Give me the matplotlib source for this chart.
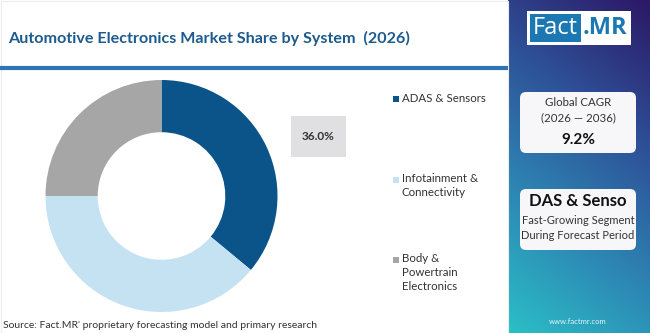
import numpy as np
import matplotlib.pyplot as plt
from matplotlib.colors import LinearSegmentedColormap
from matplotlib.patches import Rectangle, FancyBboxPatch

# data
segments = ['ADAS & Sensors', 'Infotainment &\nConnectivity', 'Body &\nPowertrain\nElectronics']
shares = [36.0, 39.0, 25.0]
seg_colors = ['#0b5489', '#c5e2f2', '#a6a6a6']
title = 'Automotive Electronics Market Share by System  (2026)'
highlight = '36.0%'
cagr_label = 'Global CAGR\n(2026 — 2036)'
cagr_value = '9.2%'
top_segment = 'DAS & Senso'
top_note = 'Fast-Growing Segment\nDuring Forecast Period'
source = "Source: Fact.MR' proprietary forecasting model and primary research"

W, H = 650, 333
plt.rcParams['font.family'] = ['Lato', 'DejaVu Sans']
fig = plt.figure(figsize=(W / 100, H / 100), dpi=100)

# background axes in pixel coords
bg = fig.add_axes([0, 0, 1, 1])
bg.set_xlim(0, W)
bg.set_ylim(H, 0)
bg.axis('off')

# right side gradient panel (diagonal: purple top-right -> teal bottom-left)
cmap = LinearSegmentedColormap.from_list('fm', ['#2c1866', '#2e4f96', '#2d86b4', '#2bbfc6'])
gx = np.linspace(0, 1, 150)
gy = np.linspace(0, 1, 340)
GX, GY = np.meshgrid(gx, gy)
grad = 0.25 * (1 - GX) + 0.75 * GY
bg.imshow(grad, cmap=cmap, extent=[508, W, H, 0], aspect='auto', zorder=0)

# left panel border and title line
bg.add_patch(Rectangle((0.5, 0.5), 507, H - 1, fill=False, edgecolor='#ececec', lw=0.8, zorder=1))
bg.text(8, 38, title, fontsize=11.6, fontweight='bold', color='#1d5a8e', va='center', ha='left')
bg.plot([0, 508], [68, 68], color='#2e75b6', lw=3, solid_capstyle='butt')

# logo
bg.add_patch(Rectangle((527, 11), 104, 34, facecolor='white', edgecolor='none', zorder=2))
bg.add_patch(Rectangle((530, 14), 51, 28, facecolor='#1b78b2', edgecolor='none', zorder=3))
bg.text(555.5, 28.5, 'Fact', fontsize=17, color='white', ha='center', va='center', zorder=4,
        family=['Open Sans', 'DejaVu Sans'])
bg.text(605, 28.5, '.MR', fontsize=17, color='#1b78b2', ha='center', va='center', zorder=4,
        family=['Open Sans', 'DejaVu Sans'], fontweight='bold')

# cards
for y0, y1 in [(92, 153), (189, 250)]:
    bg.add_patch(FancyBboxPatch((520, y0), 116, y1 - y0, boxstyle='round,pad=0,rounding_size=6',
                                facecolor='#f7f7fa', edgecolor='none', zorder=2))
bg.text(578, 110, cagr_label, fontsize=8.3, color='#333333', ha='center', va='center',
        linespacing=1.45, zorder=3)
bg.text(578, 140, cagr_value, fontsize=11, fontweight='bold', color='#111111', ha='center',
        va='center', zorder=3)
bg.text(578, 201, top_segment, fontsize=12, fontweight='bold', color='#111111', ha='center',
        va='center', zorder=3)
bg.text(578, 228, top_note, fontsize=8, color='#333333', ha='center', va='center',
        linespacing=1.45, zorder=3)
bg.text(578, 322, 'www.factmr.com', fontsize=5.5, color='#e8f4f8', ha='center', va='center')

# highlight box
bg.add_patch(Rectangle((291, 116), 55, 41, facecolor='#e0e0e2', edgecolor='none'))
bg.text(318.5, 136.5, highlight, fontsize=8.5, fontweight='bold', color='#333333',
        ha='center', va='center')

# legend (marker sits on the first line of each label)
leg_y = [99, 180, 260]
for lab, col, yy in zip(segments, seg_colors, leg_y):
    bg.add_patch(Rectangle((393, yy - 3), 6, 6, facecolor=col, edgecolor='none'))
    bg.text(402, yy - 6.5, lab, fontsize=8.3, color='#333333', ha='left', va='top', linespacing=1.3)

bg.text(3, 325, source, fontsize=7.5, color='#333333', ha='left', va='center')

# donut
cx, cy, r = 161.5, 196, 116
ax = fig.add_axes([(cx - r) / W, (H - cy - r) / H, 2 * r / W, 2 * r / H])
ax.pie(shares, colors=seg_colors, startangle=90, counterclock=False,
       wedgeprops=dict(width=0.45, edgecolor='none'))
ax.set_xlim(-1, 1)
ax.set_ylim(-1, 1)
ax.axis('off')

fig.savefig('out.png', dpi=100)
